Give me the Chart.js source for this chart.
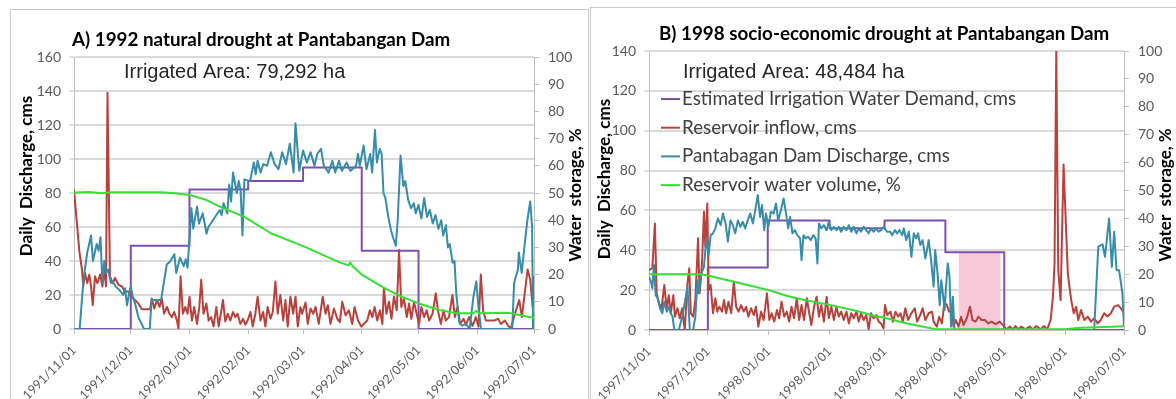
<!DOCTYPE html>
<html>
<head>
<meta charset="utf-8">
<script src="https://cdn.jsdelivr.net/npm/chart.js@4.4.1/dist/chart.umd.min.js"></script>
<style>
  html, body { margin: 0; padding: 0; background: #fff; width: 1176px; height: 399px; overflow: hidden; }
  .panel { position: absolute; border: 1px solid #c9c9c9; border-bottom: none; background: #fff; }
  #panelA { left: 10px; top: 9px; width: 577px; height: 390px; }
  #panelB { left: 590px; top: 7px; width: 585px; height: 392px; border-right: none; }
  canvas { display: block; }
</style>
</head>
<body>
<div class="panel" id="panelA"><canvas id="chartA" width="577" height="390"></canvas></div>
<div class="panel" id="panelB"><canvas id="chartB" width="585" height="391"></canvas></div>
<script>
// x values are days counted from the first tick (1st of November)
const monthDaysA = [0, 30, 61, 92, 121, 152, 182, 213, 243];
const monthLabelsA = ['1991/11/01', '1991/12/01', '1992/01/01', '1992/02/01', '1992/03/01', '1992/04/01', '1992/05/01', '1992/06/01', '1992/07/01'];
const monthDaysB = [0, 30, 61, 92, 120, 151, 181, 212, 242];
const monthLabelsB = ['1997/11/01', '1997/12/01', '1998/01/01', '1998/02/01', '1998/03/01', '1998/04/01', '1998/05/01', '1998/06/01', '1998/07/01'];

// panel A: 1992 natural drought, [day, value]
const demandA = [[0, 0], [30, 49], [61, 82], [92, 87], [121, 95], [152, 46], [182, 0], [243, 0]];
const inflowA = [[0,82],[1.4,64],[2.8,46],[4.2,35],[4.9,25],[5.8,33],[7,27],[8.1,32],[9,25],[9.9,14],[11.1,31],[12.3,27],[13.8,32],[15,25],[16,35],[16.9,25],[17.7,139],[19,31],[20.5,27],[21.7,30],[23.5,26],[25.3,25],[27,22],[28.7,22],[30.5,19],[32.3,17],[34,15],[35.8,11.6],[40.2,11.6],[41.1,18],[42.4,12],[43.8,17],[45.2,13],[46.4,18],[47.6,9],[49.1,13],[50.4,9],[51.7,7],[52.9,10],[54.4,5],[55.2,0],[56.3,31],[57.5,9],[58.8,13],[60,9],[61,19],[62.3,5],[63.5,13],[65,3],[66.2,13],[67.2,29],[68.4,9],[69.9,15],[71.1,5],[72.4,7],[73.7,1.5],[75.2,13],[76.4,1.5],[77.7,10],[78.7,17],[79.9,4.5],[81.2,9],[82.6,5],[84,10],[85.2,7],[86.4,9],[87.9,3],[89.3,6],[90.5,2.5],[91.7,5],[93.2,10],[94.4,1.5],[95.8,9],[97,19],[98.5,5],[99.9,10],[101.1,1.5],[102.3,13],[103.8,6],[105,10],[106.4,28],[107.6,9],[109,20],[110.5,5],[111.7,17],[112.9,1.5],[114.3,19],[115.8,9],[117,19],[118.2,1.5],[119.6,13],[120.5,9],[122.3,15.5],[123.5,3],[124.9,12],[126.4,9],[127.6,13],[129.3,3],[131.4,19],[132.9,9],[134.1,14],[135.5,3],[137.3,12],[139.1,6],[140.4,4],[141.7,16],[143.5,8],[145.2,11],[147,3],[148.2,13],[150,5],[151.8,1.4],[153.1,3],[154.9,5],[156.3,11],[157.6,7],[158.8,13],[160.2,5],[161.6,11],[162.9,3],[163.7,24],[165,9],[166.4,16],[167.7,6],[169,19],[170.5,11],[171.7,46.5],[172.9,13],[174.3,18],[175.8,7],[177,15],[178.2,6],[179.6,16],[181,9],[182.3,3],[183.5,13],[184.9,7],[186.3,11],[187.6,5],[189.4,9],[191.1,21],[192.4,10],[193.8,3],[195.2,11],[196.4,5],[198.1,7],[199.9,20],[201.2,7],[202.6,13],[204,3],[205.8,6],[207,2.4],[208.7,7],[210.5,1.8],[212.3,7],[213.7,1.4],[214.9,32],[216.1,11],[217.6,5],[219.3,5],[222,5],[224.1,6],[225.5,3],[227.6,5],[229.4,1.8],[230.8,0.4],[233.5,11],[235.2,17],[236.6,7],[238.2,22],[239.6,35],[241,29],[242.3,13],[243,31]];
const dischargeA = [[0,0],[3,0],[5,29],[7,45],[9,55],[10,40],[12,50],[13,46],[14,54],[15,27],[16,40],[17,33],[18,35],[19.5,27],[20.5,28],[22,25],[24,23],[26,20],[27,24],[28,14],[29,20],[30,25],[31,19],[32,16],[34,7],[37,0],[40,0],[41,17],[46,17],[49,38],[51,40],[53,44],[54,33],[56,42],[58,37],[59,41],[60,36],[62,71],[63,59],[65,72],[66,62],[68,68],[70,56],[71,60],[74,65],[77,70],[78,67],[79,74],[81,68],[82,85],[83,75],[84,92],[86,80],[87,87],[88,82],[89,55],[90,88],[93,87],[95,98],[96,91],[97,99],[98.5,92],[100,97],[102,96],[104,104],[106,97],[108,94],[110,104],[112,97],[114,109],[116,92],[117,121],[119,93],[120,99],[121,105],[123,98],[125,104],[127,96],[128.5,103],[130.5,106],[132,96],[134.5,92],[136.5,99],[138,92],[140,99],[141.5,93],[144,98],[146,93],[149,96],[150,103],[151,96],[153,108],[154.5,94],[156.5,103],[157.5,92],[159,117],[160,98],[161.5,106],[162.5,103],[163.5,80],[164.5,77],[166,66],[167.5,58],[168.5,54],[170,49],[171,64],[172.5,102],[174,84],[175,87],[176.5,76],[178,71],[179.5,74],[180.5,68],[182,73],[183.5,65],[185,77],[186.5,66],[188,70],[189.5,62],[191,67],[192.5,59],[194,64],[195,55],[196.5,61],[197.5,48],[198.5,50],[200,39],[201,40],[202,20],[203.5,4],[205,2],[207,3],[209,0],[211,19],[212.5,28],[213.5,15],[215,0],[231.5,0],[232.5,27],[234.5,35],[235,45],[236.5,33],[238,49],[239.5,64],[241,75],[242,60],[242.5,0]];
const volumeA = [[0,50.2],[8,50.4],[15,49.9],[20,50.3],[45,50.3],[52,50],[61,49.3],[70,47.4],[77,45],[90,41.2],[104,35.2],[122,30.2],[140,24.6],[145,23.4],[146,24.5],[147,23.2],[152,20],[164,15],[173,11.9],[182,9.4],[193,7],[200,6.1],[205,5.8],[211,5.8],[212.5,6.7],[214,5.8],[228,6],[231,5.8],[243,4]];

// panel B: 1998 socio-economic drought
const demandB = [[0, 0], [30, 31.4], [60.5, 55], [92, 51], [120, 55], [151, 39], [181, 0], [242, 0]];
const inflowB = [[0,30],[1.7,31],[3,53.5],[3.9,18.4],[5.1,13.4],[6.4,10.9],[7.8,22.6],[9,10.9],[10.1,17.5],[11.1,8.4],[12.4,17.5],[13.2,6.7],[14.5,10.9],[15.7,5.9],[16.9,10.9],[18.2,0],[19.6,23.4],[20.5,31],[21.3,8.4],[22.5,6.7],[23.6,15],[25,46],[25.8,18.4],[27,33.4],[28,59.3],[28.7,41.8],[29.7,63.5],[30.4,20],[31.4,22.6],[32.6,8.4],[33.8,15.9],[34.8,9.2],[35.9,11.7],[37.2,9.2],[38.2,15],[39.3,8.4],[40.5,14.2],[41.9,8.4],[43.2,24.2],[44.4,11.7],[45.6,9.2],[46.9,12.5],[48.3,9.2],[49.5,11.7],[50.6,6.7],[52,10.9],[53.4,7.5],[54.5,11.7],[55.7,1.7],[57.1,9.2],[58.4,5],[60.1,18.4],[61.3,5],[62.5,8.4],[63.8,4.2],[65.2,10],[66.3,5.9],[67.5,14.2],[68.9,6.7],[70.2,9.2],[71.4,4.2],[72.6,11.7],[73.9,5.9],[75.3,15.9],[76.5,5],[77.7,12.5],[79,5],[80.4,15.9],[81.5,9.2],[82.7,2.5],[84.1,11.7],[85.4,16.7],[86.6,6.7],[87.8,12.5],[89.1,4.2],[90.5,16.7],[91.6,5.9],[92.9,11.7],[94.2,5],[95.5,11.7],[96.7,6.7],[97.9,9.2],[99.2,5],[100.6,9.2],[101.8,3.3],[103,8.4],[104.3,5.9],[105.7,9.2],[106.8,4.2],[108,8.4],[109.4,5],[110.7,7.5],[111.9,0.3],[113.1,8.4],[114.4,5.9],[115.8,7.5],[117,4.2],[118.2,3.3],[119.5,0.8],[120.2,12.5],[121.4,7.5],[123,9.2],[124.3,4.2],[125.6,9.2],[126.9,6.7],[128.1,8.4],[129.3,4.2],[130.6,10.9],[132,5],[133.7,8.4],[135.4,10.9],[136.6,4.2],[138.2,7.5],[139.4,10.9],[140.8,5],[142.5,8.4],[144.2,9.2],[145,4.2],[146.7,1.7],[147.8,6.7],[149.2,3.3],[150.6,14.2],[151.7,12.5],[152.9,9.2],[154.3,10.9],[155.1,1.7],[156.3,5],[157.7,1.7],[159,6.7],[160.2,2.5],[161.9,5.9],[163.5,11.7],[164.8,5],[166.4,4.2],[167.8,6.7],[169.5,5],[171.1,5],[172.9,3.3],[174.5,4.2],[176.6,3],[178.7,4.2],[181,1.7],[182.1,0.3],[183.8,1.7],[185.5,0.3],[186.7,2],[188,0.3],[189.7,1.7],[191.7,0.3],[193.9,1.7],[195.6,0.3],[197.3,2],[199.5,0.3],[201.2,2],[202.9,0.3],[204.6,5],[205.8,16.7],[206.6,33],[207.5,140],[208.5,30],[209.7,15],[211.2,83],[213.4,28],[215.1,15],[216.4,8.4],[217.6,11.7],[218.7,5],[220.1,10],[221.8,5],[223.5,6.7],[225.2,4.2],[226.8,5.9],[228.6,3.3],[230.2,5],[231.9,8.4],[233.6,6.7],[235.3,8.4],[237,11.7],[239,12.5],[240.4,10.9],[242,8.4]];
const dischargeB = [[0,26.7],[1,24.2],[1.7,20.9],[2.5,32.6],[3.4,17.5],[4.4,15.9],[5.6,10.9],[6.8,8.4],[7.8,14.2],[9,9.2],[10.1,11.7],[11.1,8.4],[12,6.7],[12.9,0],[15.2,0],[16.9,6.7],[18.2,13.4],[19.6,21.7],[20.8,0],[22.5,0],[23.6,6.7],[24.7,25],[25.3,18.4],[26.7,28.4],[28,31.7],[29.2,46],[30.4,37.6],[31.4,47.6],[32.6,48.5],[33.8,51],[35.1,56],[36.5,52.6],[37.7,58.5],[39,53.5],[40.2,44.3],[41.5,55],[42.7,52.6],[43.9,48.5],[45.3,55],[46.6,51.8],[47.8,54.3],[49,51],[50.3,55],[51.6,58.5],[52.9,53.5],[54,59.3],[55.4,67.7],[56.6,56.8],[57.6,62.7],[58.7,50.1],[59.6,58.5],[60.8,51.8],[62.1,59.3],[63.5,58.5],[64.7,63.5],[65.8,55],[67.2,60.2],[68.6,66],[69.7,59.3],[70.9,51],[71.9,56.8],[73.1,48.5],[74.3,50.1],[75.6,47.6],[77,46],[77.7,35],[78.7,47.6],[79.8,46],[81,46.8],[82.4,45.1],[83.7,47.6],[84.9,46],[85.8,33.4],[86.6,53.5],[87.8,51],[89.1,52.6],[90.5,50.1],[91.6,54.3],[92.9,50.1],[94.2,51.8],[95.5,50.1],[96.7,51.8],[97.9,49.3],[99.2,51.8],[100.6,50.1],[101.8,52.6],[103,49.3],[104.3,51.8],[105.7,48.5],[106.8,51],[108,49.3],[109.4,51.8],[110.7,50.1],[111.9,48.5],[113.1,51],[114.4,49.3],[115.8,51],[117,49.3],[118.2,50.1],[119.5,51.8],[121.2,49.3],[122.9,49.3],[123.9,47.6],[125.3,50.1],[126.4,48.5],[127.6,50.1],[129,47.6],[129.8,51],[131,45.1],[132.4,49.3],[133.7,36.7],[134.9,48.5],[136.1,46],[137.1,48.5],[138.2,42.6],[139.4,45.1],[140.8,35.9],[141.6,40.1],[142.5,45.1],[143.8,34.2],[145,21.7],[145.8,40.1],[147,28.4],[148.1,12.5],[148.9,25],[149.7,18.4],[150.6,10],[151.2,20],[152.2,33.4],[153.1,26.7],[153.9,1.7],[154.8,16.7],[155.6,0.3],[226.8,0],[228.9,41.8],[231.1,43],[232.3,36.7],[234.4,56],[235.8,31.7],[237,49.3],[238.2,30],[239.5,30],[241.2,18.4],[242,1.7]];
const volumeB = [[0,20],[26,20],[30,19.5],[47,16.7],[61,14.3],[70,12.3],[76,11.2],[92,9],[106,6.8],[115,5],[120,4.4],[131,2.4],[146,0.3],[212,0.3],[220,0.8],[229,1],[242,1.3]];
const shortageB = [[157.7, 39], [179.2, 39]];

const COLORS = {
  demand: '#7D50AF',
  inflow: '#B9413C',
  discharge: '#378CAA',
  volume: '#33E033',
  shortage: '#F9C9D9'
};
const TICK = '#595959';
const AXIS = '#bfbfbf';

const panelText = {
  id: 'panelText',
  afterDraw(chart, args, o) {
    const ctx = chart.ctx;
    ctx.save();
    ctx.textBaseline = 'middle';
    ctx.textAlign = 'left';
    ctx.fillStyle = '#000';
    ctx.font = 'bold 18.8px Lato';
    ctx.fillText(o.title, o.titleAt[0], o.titleAt[1]);
    ctx.fillStyle = '#262626';
    ctx.font = '20px "Liberation Sans"';
    ctx.fillText(o.area, o.areaAt[0], o.areaAt[1]);

    ctx.fillStyle = '#000';
    ctx.font = 'bold 17px Lato';
    ctx.textAlign = 'center';
    [[o.leftTitle, o.leftAt], [o.rightTitle, o.rightAt]].forEach(([t, p]) => {
      ctx.save();
      ctx.translate(p[0], p[1]);
      ctx.rotate(-Math.PI / 2);
      ctx.fillText(t, 0, 0);
      ctx.restore();
    });

    if (o.legendAt) {
      ctx.textAlign = 'left';
      ctx.font = '18.8px Lato';
      let [x, y] = o.legendAt;
      chart.data.datasets.filter(d => d.inLegend).forEach(d => {
        ctx.strokeStyle = d.borderColor;
        ctx.lineWidth = 2;
        ctx.beginPath();
        ctx.moveTo(x, y);
        ctx.lineTo(x + 19, y);
        ctx.stroke();
        ctx.fillStyle = '#404040';
        ctx.fillText(d.label, x + 21, y);
        y += o.legendStep;
      });
    }
    ctx.restore();
  }
};

function line(label, data, color, axis, order) {
  return {
    label: label,
    data: data,
    borderColor: color,
    backgroundColor: color,
    borderWidth: 2,
    pointRadius: 0,
    tension: 0,
    borderJoinStyle: 'round',
    yAxisID: axis,
    order: order,
    inLegend: true
  };
}

function makeChart(id, p) {
  const datasets = [
    Object.assign(line('Estimated Irrigation Water Demand, cms', p.demand, COLORS.demand, 'y', 3), { stepped: true }),
    line('Reservoir inflow, cms', p.inflow, COLORS.inflow, 'y', 2),
    line('Pantabagan Dam Discharge, cms', p.discharge, COLORS.discharge, 'y', 1),
    line('Reservoir water volume, %', p.volume, COLORS.volume, 'y1', 0)
  ];
  if (p.shortage) {
    datasets.push({
      label: 'shortage',
      data: p.shortage,
      borderWidth: 0,
      borderColor: 'rgba(0,0,0,0)',
      backgroundColor: COLORS.shortage,
      fill: 'origin',
      pointRadius: 0,
      yAxisID: 'y',
      order: 10,
      inLegend: false
    });
  }

  return new Chart(document.getElementById(id), {
    type: 'line',
    data: { datasets: datasets },
    plugins: [panelText],
    options: {
      responsive: false,
      animation: false,
      events: [],
      layout: { padding: { top: p.top, left: 0, right: 0, bottom: 0 } },
      plugins: {
        legend: { display: false },
        title: { display: false },
        tooltip: { enabled: false },
        panelText: p.text
      },
      scales: {
        x: {
          type: 'linear',
          min: 0,
          max: p.days[p.days.length - 1],
          afterBuildTicks: s => { s.ticks = p.days.map(v => ({ value: v })); },
          afterFit: s => { s.height = p.xHeight; },
          ticks: {
            autoSkip: false,
            minRotation: 45,
            maxRotation: 45,
            padding: 9,
            color: TICK,
            font: { family: 'Lato', size: 12.5 },
            callback: (v, i) => p.labels[i]
          },
          grid: { drawOnChartArea: false, tickLength: 5, color: AXIS },
          border: { color: AXIS, width: 1 }
        },
        y: {
          position: 'left',
          min: 0,
          max: p.yMax,
          afterFit: s => { s.width = p.leftWidth; },
          ticks: { stepSize: 20, padding: 8, color: TICK, font: { family: 'Lato', size: 14 } },
          grid: { color: '#dadada', lineWidth: 2, tickLength: 5, tickColor: AXIS, tickWidth: 1 },
          border: { color: AXIS, width: 1 }
        },
        y1: {
          position: 'right',
          min: 0,
          max: 100,
          afterFit: s => { s.width = p.rightWidth; },
          ticks: { stepSize: 10, padding: 9, color: TICK, font: { family: 'Lato', size: 14 } },
          grid: { drawOnChartArea: false, tickLength: 5, color: AXIS },
          border: { color: AXIS, width: 1 }
        }
      }
    }
  });
}

makeChart('chartA', {
  demand: demandA, inflow: inflowA, discharge: dischargeA, volume: volumeA,
  days: monthDaysA, labels: monthLabelsA, yMax: 160,
  top: 47, leftWidth: 63, rightWidth: 54, xHeight: 71,
  text: {
    title: 'A) 1992 natural drought at Pantabangan Dam', titleAt: [61, 30],
    area: 'Irrigated Area: 79,292 ha', areaAt: [113, 62],
    leftTitle: 'Daily  Discharge, cms', leftAt: [16, 166],
    rightTitle: 'Water  storage, %', rightAt: [565, 185]
  }
});

makeChart('chartB', {
  demand: demandB, inflow: inflowB, discharge: dischargeB, volume: volumeB, shortage: shortageB,
  days: monthDaysB, labels: monthLabelsB, yMax: 140,
  top: 43, leftWidth: 54, rightWidth: 52, xHeight: 69,
  text: {
    title: 'B) 1998 socio-economic drought at Pantabangan Dam', titleAt: [68, 26],
    area: 'Irrigated Area: 48,484 ha', areaAt: [92, 64],
    leftTitle: 'Daily  Discharge, cms', leftAt: [14, 171],
    rightTitle: 'Water  storage, %', rightAt: [575, 187],
    legendAt: [70, 91], legendStep: 28.7
  }
});
</script>
</body>
</html>
